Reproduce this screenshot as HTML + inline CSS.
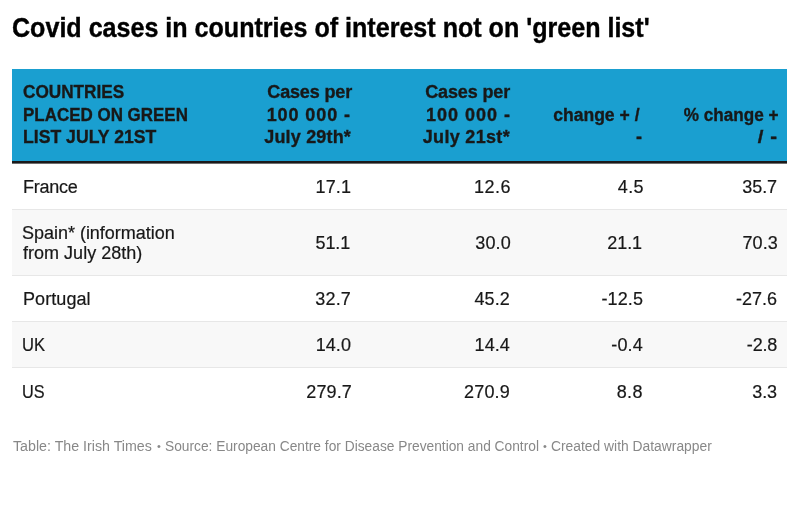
<!DOCTYPE html>
<html lang="en"><head><meta charset="utf-8"><title>Covid cases in countries of interest not on 'green list'</title>
<style>
html,body{margin:0;padding:0;background:#fff}
body{font-family:"Liberation Sans",sans-serif;width:800px;height:505px;overflow:hidden;color:#181818;position:relative}
.m{display:inline-block;position:relative;white-space:nowrap}
h1{position:absolute;left:12px;top:10px;margin:0;font-size:27.4px;font-weight:700;line-height:36px;color:#000;white-space:nowrap;-webkit-text-stroke:0.4px #000}
.tbl{position:absolute;left:12px;top:69px;width:775px;font-size:18px;-webkit-text-stroke:0.2px #181818}
.hd{display:flex;align-items:flex-end;height:92px;background:#1a9fd0;border-bottom:2px solid #1a1a1a;box-shadow:0 1px 0 #6e6e6e;font-weight:700;font-size:18px;line-height:22.75px;color:#181818;-webkit-text-stroke:0.35px #181818}
.hd>div{box-sizing:border-box;padding:0 10px 12px;text-align:right}
.hd>div:first-child,.r>div:first-child{text-align:left}
.r{display:flex;align-items:center;height:46px;box-sizing:border-box;border-top:1px solid #e7e7e7;line-height:19.5px}
.r.first{border-top:0}
.r.tall{height:66px}
.r.alt{background:#f8f8f8}
.r>div{box-sizing:border-box;padding:0 10px;text-align:right}
.c0{width:214px}.c1{width:135px}.c2{width:159px}.c3{width:133px}.c4{flex:1}
.foot{position:absolute;left:0;top:437px;width:800px;height:18px;font-size:14px;color:#888;white-space:nowrap;line-height:18px}
.foot .m{position:absolute;top:0;left:0}
#fb1,#fb2{font-size:11px;line-height:19px}
</style></head><body>
<h1><span class="m" id="title" style="transform:scaleX(0.9156);transform-origin:left center">Covid cases in countries of interest not on &#39;green list&#39;</span></h1>
<div class="tbl">
<div class="hd"><div class="c0"><span class="m" id="h0l0" style="left:1px;transform:scaleX(0.9539);transform-origin:left center">COUNTRIES</span><br><span class="m" id="h0l1" style="left:1px;transform:scaleX(0.9424);transform-origin:left center">PLACED ON GREEN</span><br><span class="m" id="h0l2" style="left:1px;transform:scaleX(0.9795);transform-origin:left center">LIST JULY 21ST</span></div><div class="c1"><span class="m" id="h1l0" style="letter-spacing:-0.15px;left:1px">Cases per</span><br><span class="m" id="h1l1" style="letter-spacing:0.92px">100 000 -</span><br><span class="m" id="h1l2" style="letter-spacing:0.17px">July 29th*</span></div><div class="c2"><span class="m" id="h2l0" style="letter-spacing:-0.14px">Cases per</span><br><span class="m" id="h2l1" style="letter-spacing:0.99px;left:1px">100 000 -</span><br><span class="m" id="h2l2" style="letter-spacing:0.32px">July 21st*</span></div><div class="c3"><span class="m" id="h3l0" style="left:-3px;transform:scaleX(0.9760);transform-origin:right center">change + /</span><br><span class="m" id="h3l1" style="left:-1px">-</span></div><div class="c4"><span class="m" id="h4l0" style="left:2px;transform:scaleX(0.9515);transform-origin:right center">% change +</span><br><span class="m" id="h4l1" style="letter-spacing:0.5px;transform:scaleX(1.1288);transform-origin:right center">/ -</span></div></div>
<div class="r first"><div class="c0"><span class="m" id="r0n0" style="letter-spacing:-0.24px;left:1px;top:2px">France</span></div><div class="c1"><span class="m" id="r0c1" style="letter-spacing:0.09px;top:2px">17.1</span></div><div class="c2"><span class="m" id="r0c2" style="letter-spacing:0.5px;left:1px;top:2px">12.6</span></div><div class="c3"><span class="m" id="r0c3" style="letter-spacing:0.38px;left:1px;top:2px">4.5</span></div><div class="c4"><span class="m" id="r0c4" style="letter-spacing:-0.1px;top:2px">35.7</span></div></div>
<div class="r tall alt"><div class="c0"><span class="m" id="r1n0" style="letter-spacing:-0.02px;top:1px">Spain* (information</span><br><span class="m" id="r1n1" style="letter-spacing:0.02px;left:1px;top:1px">from July 28th)</span></div><div class="c1"><span class="m" id="r1c1" style="letter-spacing:-0.15px;left:-1px;top:1px">51.1</span></div><div class="c2"><span class="m" id="r1c2" style="letter-spacing:0.18px;left:1px;top:1px">30.0</span></div><div class="c3"><span class="m" id="r1c3" style="letter-spacing:-0.09px;left:-1px;top:1px">21.1</span></div><div class="c4"><span class="m" id="r1c4" style="letter-spacing:0.14px;left:1px;top:1px">70.3</span></div></div>
<div class="r"><div class="c0"><span class="m" id="r2n0" style="letter-spacing:0.08px;left:1px;top:1px">Portugal</span></div><div class="c1"><span class="m" id="r2c1" style="letter-spacing:0.16px;top:1px">32.7</span></div><div class="c2"><span class="m" id="r2c2" style="letter-spacing:0.12px;top:1px">45.2</span></div><div class="c3"><span class="m" id="r2c3" style="letter-spacing:0.09px;top:1px">-12.5</span></div><div class="c4"><span class="m" id="r2c4" style="letter-spacing:-0.03px;top:1px">-27.6</span></div></div>
<div class="r alt"><div class="c0"><span class="m" id="r3n0" style="top:1px;transform:scaleX(0.9224);transform-origin:left center">UK</span></div><div class="c1"><span class="m" id="r3c1" style="letter-spacing:0.07px;top:1px">14.0</span></div><div class="c2"><span class="m" id="r3c2" style="letter-spacing:0.11px;top:1px">14.4</span></div><div class="c3"><span class="m" id="r3c3" style="letter-spacing:0.18px;top:1px">-0.4</span></div><div class="c4"><span class="m" id="r3c4" style="letter-spacing:-0.22px;top:1px">-2.8</span></div></div>
<div class="r"><div class="c0"><span class="m" id="r4n0" style="top:2px;transform:scaleX(0.9045);transform-origin:left center">US</span></div><div class="c1"><span class="m" id="r4c1" style="letter-spacing:0.12px;left:1px;top:2px">279.7</span></div><div class="c2"><span class="m" id="r4c2" style="letter-spacing:0.18px;top:2px">270.9</span></div><div class="c3"><span class="m" id="r4c3" style="letter-spacing:0.44px;top:2px">8.8</span></div><div class="c4"><span class="m" id="r4c4" style="letter-spacing:-0.12px;top:2px">3.3</span></div></div>
</div>
<div class="foot"><span class="m" id="f1" style="left:13px;transform:scaleX(1.0159);transform-origin:left center">Table: The Irish Times</span> <span class="m" id="fb1" style="left:157px">•</span> <span class="m" id="f2" style="left:165px;transform:scaleX(0.9827);transform-origin:left center">Source: European Centre for Disease Prevention and Control</span> <span class="m" id="fb2" style="left:543px">•</span> <span class="m" id="f3" style="left:551px;transform:scaleX(0.9887);transform-origin:left center">Created with Datawrapper</span></div>
</body></html>
